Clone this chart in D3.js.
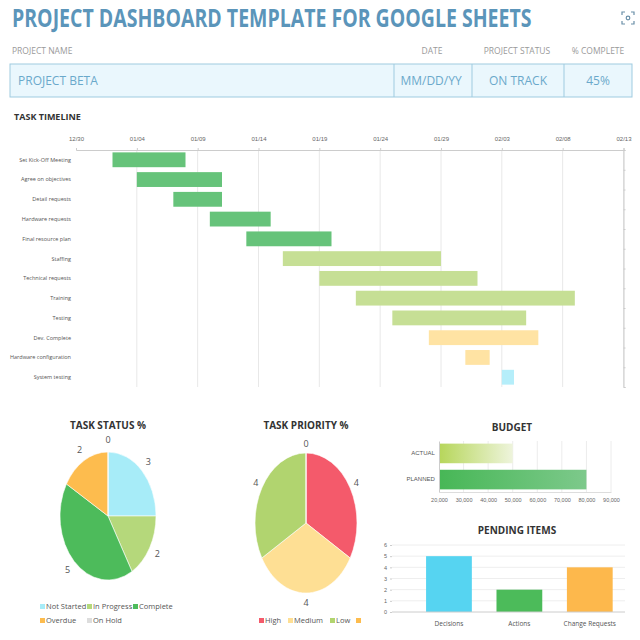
<!DOCTYPE html>
<html>
<head>
<meta charset="utf-8">
<script src="https://cdn.jsdelivr.net/npm/d3@7"></script>
<style>
  body { margin: 0; background: #fff; }
  svg { font-family: "Open Sans", "DejaVu Sans", sans-serif; }
</style>
</head>
<body>
<script>
// header values
var headerLabels = ["PROJECT NAME", "DATE", "PROJECT STATUS", "% COMPLETE"];
var headerValues = ["PROJECT BETA", "MM/DD/YY", "ON TRACK", "45%"];

// timeline
var tasks = ["Set Kick-Off Meeting", "Agree on objectives", "Detail requests", "Hardware requests",
  "Final resource plan", "Staffing", "Technical requests", "Training", "Testing",
  "Dev. Complete", "Hardware configuration", "System testing"];
var taskStart = ["2019-01-02", "2019-01-04", "2019-01-07", "2019-01-10", "2019-01-13", "2019-01-16",
  "2019-01-19", "2019-01-22", "2019-01-25", "2019-01-28", "2019-01-31", "2019-02-03"];
var taskEnd = ["2019-01-08", "2019-01-11", "2019-01-11", "2019-01-15", "2019-01-20", "2019-01-29",
  "2019-02-01", "2019-02-09", "2019-02-05", "2019-02-06", "2019-02-02", "2019-02-04"];
var taskState = ["Complete", "Complete", "Complete", "Complete", "Complete", "In Progress",
  "In Progress", "In Progress", "In Progress", "Overdue", "Overdue", "Not Started"];
var timelineTicks = ["2018-12-30", "2019-01-04", "2019-01-09", "2019-01-14", "2019-01-19",
  "2019-01-24", "2019-01-29", "2019-02-03", "2019-02-08", "2019-02-13"];

// task status pie
var statusNames = ["Not Started", "In Progress", "Complete", "Overdue", "On Hold"];
var statusValues = [3, 2, 5, 2, 0];

// task priority pie
var priorityNames = ["High", "Medium", "Low", ""];
var priorityValues = [4, 4, 4, 0];

// budget
var budgetNames = ["ACTUAL", "PLANNED"];
var budgetValues = [50000, 80000];
var budgetTicks = [20000, 30000, 40000, 50000, 60000, 70000, 80000, 90000];

// pending items
var pendingNames = ["Decisions", "Actions", "Change Requests"];
var pendingValues = [5, 2, 4];

var svg = d3.select("body").append("svg")
    .attr("width", 640)
    .attr("height", 640);

var defs = svg.append("defs");

// ---------- header ----------
var title = svg.append("text")
    .style("font-size", "25px").style("font-weight", 700)
    .style("fill", "#5b95ba")
    .text("PROJECT DASHBOARD TEMPLATE FOR GOOGLE SHEETS");
// squeeze the title to the width it has in the template
var tw = title.node().getComputedTextLength();
title.attr("transform", "translate(12,27) scale(" + (520 / tw) + ",1)");

// little icon top right
var icon = svg.append("g").attr("transform", "translate(628,18)")
    .style("fill", "none").style("stroke", "#6a8fa8").style("stroke-width", 1.2);
icon.append("path").attr("d", "M-6,-3 v-3 h3 M3,-6 h3 v3 M6,3 v3 h-3 M-3,6 h-3 v-3");
icon.append("circle").attr("r", 1.8);

var colX = [12, 432, 517, 598];
svg.selectAll(".hlabel")
  .data(headerLabels)
  .enter().append("text")
    .attr("class", "hlabel")
    .attr("x", function(d, i) { return colX[i]; })
    .attr("y", 54)
    .attr("text-anchor", function(d, i) { return i == 0 ? "start" : "middle"; })
    .style("font-size", "8.5px").style("fill", "#9a9a9a")
    .text(function(d) { return d; });

svg.append("rect")
    .attr("x", 10).attr("y", 64).attr("width", 622).attr("height", 33)
    .style("fill", "#eaf7fd").style("stroke", "#9fcbe0");
[394, 472, 564].forEach(function(x) {
  svg.append("line").attr("x1", x).attr("x2", x).attr("y1", 64).attr("y2", 97)
    .style("stroke", "#9fcbe0");
});
var valX = [18, 431, 518, 598];
svg.selectAll(".hval")
  .data(headerValues)
  .enter().append("text")
    .attr("class", "hval")
    .attr("x", function(d, i) { return valX[i]; })
    .attr("y", 85)
    .attr("text-anchor", function(d, i) { return i == 0 ? "start" : "middle"; })
    .style("font-size", "12px").style("fill", "#6aa9cb")
    .text(function(d) { return d; });

// ---------- timeline ----------
var parseDate = d3.timeParse("%Y-%m-%d");
var fmt = d3.timeFormat("%m/%d");
var stateColor = { "Not Started": "#b5eefa", "In Progress": "#c6df95", "Complete": "#66c37a", "Overdue": "#ffe3a3" };

svg.append("text")
    .attr("x", 14).attr("y", 120)
    .style("font-size", "9px").style("font-weight", 700).style("fill", "#333")
    .text("TASK TIMELINE");

var tx = d3.scaleTime()
    .domain([parseDate(timelineTicks[0]), parseDate(timelineTicks[timelineTicks.length - 1])])
    .range([76, 623.5]);
var ty = d3.scaleBand().domain(tasks).range([150, 387]).paddingInner(0.25).paddingOuter(0.12);

var tl = svg.append("g");
tl.selectAll(".grid")
  .data(timelineTicks.slice(1))
  .enter().append("line")
    .attr("x1", function(d) { return tx(parseDate(d)); })
    .attr("x2", function(d) { return tx(parseDate(d)); })
    .attr("y1", 150).attr("y2", 387)
    .style("stroke", "#e8e8e8");

var xAxisT = tl.append("g")
    .attr("transform", "translate(0,150)")
    .call(d3.axisTop(tx).tickValues(timelineTicks.map(parseDate)).tickFormat(fmt).tickSize(2));
xAxisT.select(".domain").style("stroke", "#ccc");
xAxisT.selectAll(".tick line").style("stroke", "#ccc");
xAxisT.selectAll("text").style("font-size", "6px").style("fill", "#666").attr("dy", "-0.6em");

// right side axis
var rAxis = tl.append("g")
    .attr("transform", "translate(623.5,0)")
    .call(d3.axisRight(d3.scaleLinear().domain([0, 12]).range([150, 387])).ticks(12).tickSize(2).tickFormat(""));
rAxis.select(".domain").style("stroke", "#ccc");
rAxis.selectAll(".tick line").style("stroke", "#ccc");

tl.selectAll(".bar")
  .data(tasks)
  .enter().append("rect")
    .attr("x", function(d, i) { return tx(parseDate(taskStart[i])); })
    .attr("y", function(d) { return ty(d); })
    .attr("width", function(d, i) { return tx(parseDate(taskEnd[i])) - tx(parseDate(taskStart[i])); })
    .attr("height", ty.bandwidth())
    .style("fill", function(d, i) { return stateColor[taskState[i]]; });

tl.selectAll(".tlabel")
  .data(tasks)
  .enter().append("text")
    .attr("x", 71)
    .attr("y", function(d) { return ty(d) + ty.bandwidth() / 2; })
    .attr("dy", "0.35em")
    .attr("text-anchor", "end")
    .style("font-size", "5.5px").style("fill", "#555")
    .text(function(d) { return d; });

// ---------- pies ----------
function drawPie(cx, cy, rx, ry, names, values, colors, labelPos, title, titleY) {
  svg.append("text")
      .attr("x", cx).attr("y", titleY)
      .attr("text-anchor", "middle")
      .style("font-size", "10px").style("font-weight", 700).style("fill", "#333")
      .text(title);

  var g = svg.append("g")
      .attr("transform", "translate(" + cx + "," + cy + ") scale(1," + (ry / rx) + ")");
  var arcs = d3.pie().sort(null)(values);
  var arc = d3.arc().innerRadius(0).outerRadius(rx);
  g.selectAll("path")
    .data(arcs)
    .enter().append("path")
      .attr("d", arc)
      .style("fill", function(d, i) { return colors[i]; })
      .style("stroke", "#fff").style("stroke-width", 0.5);

  // value labels just outside the slices
  var lab = d3.arc().innerRadius(rx + labelPos).outerRadius(rx + labelPos);
  arcs.forEach(function(d, i) {
    var c = lab.centroid(d);
    svg.append("text")
        .attr("x", cx + c[0])
        .attr("y", cy + c[1] * ry / rx)
        .attr("dy", "0.35em")
        .attr("text-anchor", "middle")
        .style("font-size", "9px").style("fill", "#555")
        .text(values[i]);
  });
}

var statusColors = ["#a7ecf8", "#b5d87b", "#4dbb5b", "#fdbc4e", "#dddddd"];
drawPie(108, 516, 48, 64, statusNames, statusValues, statusColors, 9, "TASK STATUS %", 429);

var priorityColors = ["#f45a6b", "#fedf94", "#b1d46f", "#fdbc4e"];
drawPie(306, 523, 51, 70, priorityNames, priorityValues, priorityColors, 7, "TASK PRIORITY %", 429);

// pie legends
function legendItem(x, y, color, label) {
  svg.append("rect").attr("x", x).attr("y", y - 5).attr("width", 5).attr("height", 5).style("fill", color);
  svg.append("text").attr("x", x + 6).attr("y", y)
      .style("font-size", "7.5px").style("fill", "#555").text(label);
}
var statusLegendX = [40, 87, 133, 40, 87];
var statusLegendY = [609, 609, 609, 623, 623];
statusNames.forEach(function(n, i) {
  legendItem(statusLegendX[i], statusLegendY[i], statusColors[i], n);
});
var priorityLegendX = [259, 288, 330, 356];
priorityNames.forEach(function(n, i) {
  legendItem(priorityLegendX[i], 623, priorityColors[i], n);
});

// ---------- budget ----------
svg.append("text")
    .attr("x", 512).attr("y", 431)
    .attr("text-anchor", "middle")
    .style("font-size", "10px").style("font-weight", 700).style("fill", "#333")
    .text("BUDGET");

var bx = d3.scaleLinear().domain([20000, 90000]).range([439, 611]);
var by = d3.scaleBand().domain(budgetNames).range([441, 492]).paddingInner(0.25).paddingOuter(0.1);

var gA = defs.append("linearGradient").attr("id", "gradA");
gA.append("stop").attr("offset", "0%").style("stop-color", "#b6d65a");
gA.append("stop").attr("offset", "100%").style("stop-color", "#eef4dc");
var gP = defs.append("linearGradient").attr("id", "gradP");
gP.append("stop").attr("offset", "0%").style("stop-color", "#47b756");
gP.append("stop").attr("offset", "100%").style("stop-color", "#7dc98b");

svg.selectAll(".bgrid")
  .data(budgetTicks.slice(1))
  .enter().append("line")
    .attr("x1", function(d) { return bx(d); }).attr("x2", function(d) { return bx(d); })
    .attr("y1", 441).attr("y2", 492)
    .style("stroke", "#ececec");

svg.selectAll(".bbar")
  .data(budgetNames)
  .enter().append("rect")
    .attr("x", bx(20000))
    .attr("y", function(d) { return by(d); })
    .attr("width", function(d, i) { return bx(budgetValues[i]) - bx(20000); })
    .attr("height", by.bandwidth())
    .style("fill", function(d, i) { return i == 0 ? "url(#gradA)" : "url(#gradP)"; });

var bxAxis = svg.append("g")
    .attr("transform", "translate(0,492)")
    .call(d3.axisBottom(bx).tickValues(budgetTicks).tickSize(0).tickFormat(d3.format(",")));
bxAxis.select(".domain").style("stroke", "#ddd");
bxAxis.selectAll("text").style("font-size", "5.5px").style("fill", "#666").attr("dy", "1.2em");

var byAxis = svg.append("g")
    .attr("transform", "translate(439,0)")
    .call(d3.axisLeft(by).tickSize(0));
byAxis.select(".domain").style("stroke", "#ccc");
byAxis.selectAll("text").style("font-size", "6px").style("fill", "#555").attr("dx", "-0.2em");

// ---------- pending items ----------
svg.append("text")
    .attr("x", 517).attr("y", 534)
    .attr("text-anchor", "middle")
    .style("font-size", "10px").style("font-weight", 700).style("fill", "#333")
    .text("PENDING ITEMS");

var px = d3.scaleBand().domain(pendingNames).range([413.75, 625]).paddingInner(0.35).paddingOuter(0.175);
var py = d3.scaleLinear().domain([0, 6]).range([612, 545]);
var pendingColors = ["#56d4f1", "#4cbb5a", "#fdb84c"];

svg.selectAll(".pgrid")
  .data(d3.range(1, 7))
  .enter().append("line")
    .attr("x1", 392).attr("x2", 625)
    .attr("y1", function(d) { return py(d); }).attr("y2", function(d) { return py(d); })
    .style("stroke", "#eeeeee");

svg.selectAll(".pbar")
  .data(pendingNames)
  .enter().append("rect")
    .attr("x", function(d) { return px(d); })
    .attr("y", function(d, i) { return py(pendingValues[i]); })
    .attr("width", px.bandwidth())
    .attr("height", function(d, i) { return py(0) - py(pendingValues[i]); })
    .style("fill", function(d, i) { return pendingColors[i]; });

var pyAxis = svg.append("g")
    .attr("transform", "translate(392,0)")
    .call(d3.axisLeft(py).ticks(6).tickSize(2));
pyAxis.select(".domain").remove();
pyAxis.selectAll(".tick line").style("stroke", "#ccc");
pyAxis.selectAll("text").style("font-size", "5.5px").style("fill", "#666");

svg.append("line").attr("x1", 392).attr("x2", 625).attr("y1", py(0)).attr("y2", py(0))
    .style("stroke", "#ccc");

svg.selectAll(".plabel")
  .data(pendingNames)
  .enter().append("text")
    .attr("x", function(d) { return px(d) + px.bandwidth() / 2; })
    .attr("y", 626)
    .attr("text-anchor", "middle")
    .style("font-size", "6.5px").style("fill", "#555")
    .text(function(d) { return d; });
</script>
</body>
</html>
